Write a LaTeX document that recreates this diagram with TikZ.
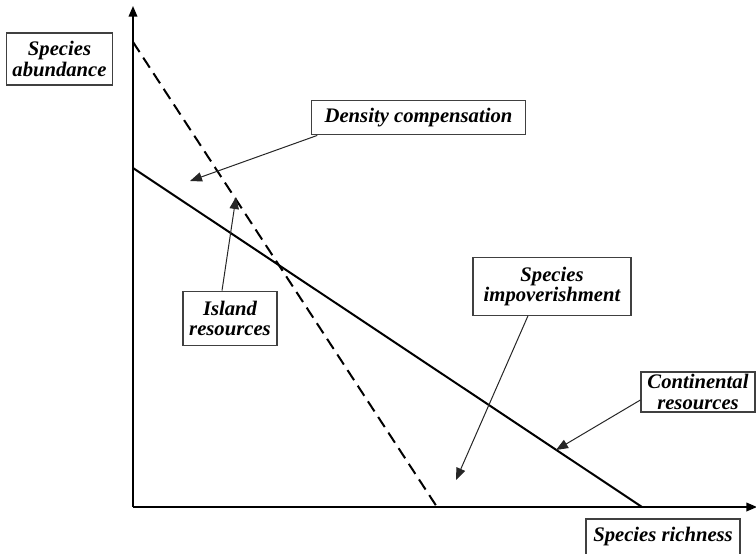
\documentclass[tikz,border=0pt]{standalone}
\usepackage{fontspec}
\setmainfont{Liberation Serif}
\usetikzlibrary{arrows.meta}
\begin{document}
\begin{tikzpicture}[x=0.75pt,y=-0.75pt,
  lbl/.style={draw=black!75,line width=0.9pt,fill=white,align=center,inner sep=0pt,
    font=\fontsize{15.5}{15.5}\selectfont\bfseries\itshape},
  axis/.style={line width=1.2pt,-{Triangle[length=8pt,width=6.5pt]}},
  pointer/.style={line width=0.75pt,black!85,-{Triangle[length=9pt,width=7pt]}},
  curve/.style={line width=1.5pt}]
\useasboundingbox (0,0) rectangle (756,553);
% axes
\coordinate (O) at (133,507);
\coordinate (ytop) at (133,6);
\coordinate (xend) at (757,507);
\draw[axis] (O) -- (ytop);
\draw[axis] (O) -- (xend);
% lines
\coordinate (d1) at (133,42);
\coordinate (d2) at (437,507);
\coordinate (s1) at (133,168);
\coordinate (s2) at (642,507);
\draw[curve,dash pattern=on 9pt off 5pt] (d1) -- (d2);
\draw[curve] (s1) -- (s2);
% labels
\node[lbl,minimum width=80pt,minimum height=39pt] (ab) at (59.5,59) {Species\\abundance};
\node[lbl,minimum width=160pt,minimum height=26pt] (dc) at (418.5,117.5) {Density compensation};
\node[lbl,minimum width=70.5pt,minimum height=41pt] (ir) at (230,318.5) {Island\\resources};
\node[lbl,minimum width=118.5pt,minimum height=43pt] (si) at (552,286.5) {Species\\impoverishment};
\node[lbl,minimum width=85.5pt,minimum height=30pt] (cr) at (698,392) {Continental\\resources};
\node[lbl,minimum width=115.5pt,minimum height=27pt] (sr) at (663,537) {Species richness};
% pointers
\coordinate (dct) at (190,181);
\coordinate (irt) at (236,197);
\coordinate (sit) at (456,480);
\coordinate (crt) at (556,450);
\draw[pointer] ([xshift=4.5pt]dc.south west) -- (dct);
\draw[pointer] ([xshift=-6pt]ir.north) -- (irt);
\draw[pointer] ([xshift=-18pt]si.south) -- (sit);
\draw[pointer] ([yshift=-6pt]cr.west) -- (crt);
\end{tikzpicture}
\end{document}
